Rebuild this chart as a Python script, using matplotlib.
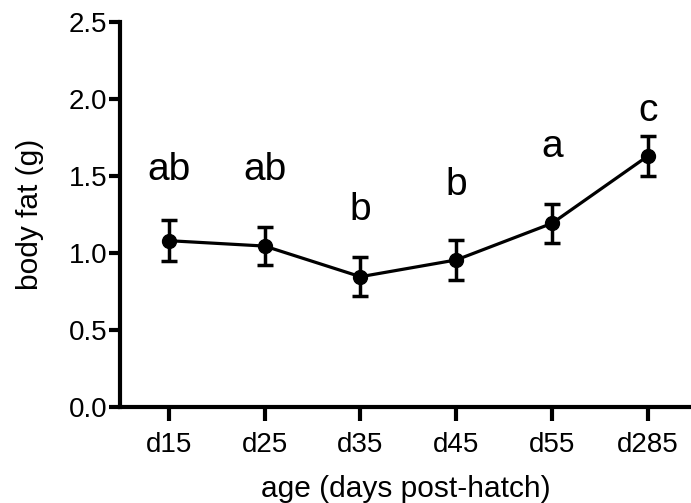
import matplotlib
matplotlib.use("Agg")
import matplotlib.pyplot as plt

categories = ["d15", "d25", "d35", "d45", "d55", "d285"]
means = [1.08, 1.045, 0.846, 0.955, 1.193, 1.63]
errors = [0.132, 0.122, 0.126, 0.128, 0.126, 0.128]
letters = ["ab", "ab", "b", "b", "a", "c"]
letter_y = [1.54, 1.54, 1.28, 1.44, 1.69, 1.92]
yticks = [0.0, 0.5, 1.0, 1.5, 2.0, 2.5]

plt.rcParams['font.family'] = ['Liberation Sans', 'DejaVu Sans']

fig = plt.figure(figsize=(6.91, 5.03), dpi=100)
ax = fig.add_axes([120/691, 96/503, (691-120)/691, (407-22)/503])

x = list(range(len(categories)))
ax.errorbar(x, means, yerr=errors, color='black', lw=2.3, marker='o', ms=10,
            capsize=6, capthick=2.5, elinewidth=2.5, clip_on=False)
for xi, t, ly in zip(x, letters, letter_y):
    ax.text(xi, ly, t, ha='center', va='center', fontsize=28)

ax.set_xlim(-0.51, 5.45)
ax.set_ylim(0, 2.5)
ax.set_xticks(x)
ax.set_xticklabels(categories, fontsize=20)
ax.set_yticks(yticks)
ax.set_yticklabels([f"{v:.1f}" for v in yticks], fontsize=20)
for s in ['top', 'right']:
    ax.spines[s].set_visible(False)
for s in ['left', 'bottom']:
    ax.spines[s].set_linewidth(3)
ax.tick_params(axis='both', width=3, length=8, pad=1)
ax.tick_params(axis='x', length=10, pad=8)
ax.set_xlabel("age (days post-hatch)", fontsize=21.5, labelpad=12)
ax.set_ylabel("body fat (g)", fontsize=21.5, labelpad=18)

fig.savefig("out.png", dpi=100)
